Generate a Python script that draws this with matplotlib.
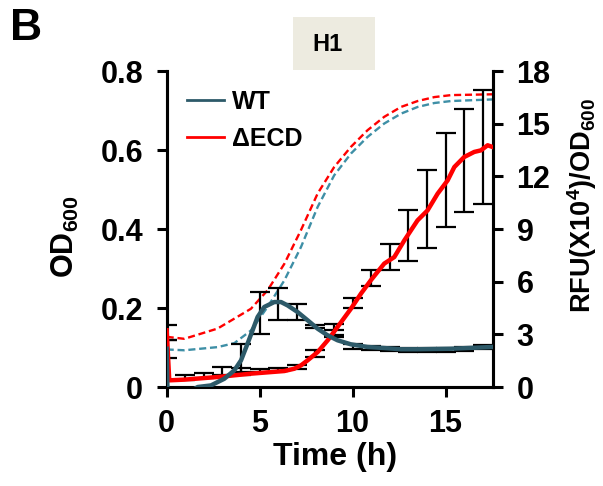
import matplotlib
matplotlib.use('Agg')
import matplotlib.pyplot as plt
from matplotlib.lines import Line2D
from matplotlib.patches import Rectangle

plt.rcParams['font.family'] = ['Liberation Sans', 'DejaVu Sans']
plt.rcParams['font.weight'] = 'bold'
plt.rcParams['mathtext.fontset'] = 'custom'
plt.rcParams['mathtext.rm'] = 'Liberation Sans:bold'
plt.rcParams['mathtext.it'] = 'Liberation Sans:bold'
plt.rcParams['mathtext.bf'] = 'Liberation Sans:bold'

# OD600 growth curves (dashed, left axis)
t_od_ecd = [0, 0.95, 2.74, 4.53, 5.43, 6.33, 7.22, 8.12, 9.01, 9.91, 10.8, 11.7, 12.6, 13.5, 14.4, 15.3, 17.5]
od_ecd = [0.127, 0.122, 0.148, 0.198, 0.245, 0.312, 0.397, 0.490, 0.557, 0.608, 0.650, 0.684, 0.709, 0.724, 0.734, 0.739, 0.741]
t_od_wt = [0, 0.95, 2.74, 3.64, 4.53, 5.43, 6.33, 7.22, 8.12, 9.01, 9.91, 10.8, 11.7, 12.6, 13.5, 14.4, 15.3, 17.5]
od_wt = [0.095, 0.093, 0.101, 0.111, 0.143, 0.203, 0.270, 0.354, 0.456, 0.536, 0.591, 0.633, 0.667, 0.692, 0.709, 0.719, 0.724, 0.728]

# RFU/OD600 curves (solid, right axis)
t_rfu_ecd = [0, 0.14, 0.95, 2.74, 4.53, 6.33, 6.86, 7.22, 7.58, 8.12, 8.66, 9.19, 9.91, 10.45, 10.98,
             11.70, 12.24, 12.78, 13.49, 14.03, 14.57, 15.11, 15.47, 16.0, 16.54, 16.9, 17.26, 17.53]
rfu_ecd = [3.23, 0.38, 0.42, 0.57, 0.76, 0.91, 1.04, 1.23, 1.52, 1.99, 2.66, 3.42, 4.46, 5.32, 6.08,
           7.03, 7.40, 8.35, 9.49, 10.06, 11.01, 11.77, 12.53, 13.10, 13.39, 13.48, 13.77, 13.67]
t_rfu_wt = [0, 0.05, 1.2, 1.67, 2.38, 3.10, 3.64, 4.0, 4.35, 4.62, 4.89, 5.25, 5.79, 6.15, 6.50, 7.04,
            7.58, 8.12, 8.66, 9.19, 9.91, 10.8, 11.7, 12.6, 13.5, 15.3, 17.5]
rfu_wt = [2.18, -0.8, -0.3, 0.0, 0.09, 0.47, 0.95, 1.52, 2.47, 3.23, 3.99, 4.56, 4.84, 4.84, 4.65, 4.27,
          3.80, 3.32, 2.94, 2.66, 2.43, 2.28, 2.22, 2.15, 2.15, 2.18, 2.28]

# error bars (right axis)
t_err_ecd = [0, 1, 2, 3, 4, 5, 6, 7, 8, 9, 10, 11, 12, 13, 14, 15, 16, 17]
m_err_ecd = [3.08, 0.53, 0.63, 0.89, 0.90, 0.95, 1.00, 1.14, 1.90, 3.28, 4.80, 6.23, 7.40, 8.64, 10.16, 11.79, 12.91, 13.69]
e_err_ecd = [0.43, 0.14, 0.14, 0.23, 0.2, 0.1, 0.1, 0.1, 0.2, 0.3, 0.28, 0.46, 0.76, 1.46, 2.22, 2.68, 2.94, 3.25]
t_err_wt = [0, 4, 5, 6, 7, 8, 9, 10, 11, 12, 13, 14, 15, 16, 17]
m_err_wt = [2.15, 1.65, 4.23, 4.75, 4.29, 3.45, 3.04, 2.32, 2.22, 2.15, 2.09, 2.09, 2.13, 2.18, 2.28]
e_err_wt = [0.5, 0.79, 1.19, 0.91, 0.46, 0.1, 0.2, 0.15, 0.12, 0.12, 0.12, 0.12, 0.12, 0.12, 0.12]

teal = '#2D5A69'
teal_dash = '#3E8FA6'
red = '#FF0000'

fig = plt.figure(figsize=(6.03, 4.86), dpi=100)
ax = fig.add_axes([0.2764, 0.2037, 0.5412, 0.6502])
ax2 = ax.twinx()

ax.plot(t_od_ecd, od_ecd, '--', color=red, lw=1.7, dashes=(3, 1.6))
ax.plot(t_od_wt, od_wt, '--', color=teal_dash, lw=1.7, dashes=(3, 1.6))

ax2.errorbar(t_err_ecd, m_err_ecd, yerr=e_err_ecd, fmt='none', ecolor='black', elinewidth=1.6, capsize=7, capthick=1.6, zorder=2)
ax2.errorbar(t_err_wt, m_err_wt, yerr=e_err_wt, fmt='none', ecolor='black', elinewidth=1.6, capsize=7, capthick=1.6, zorder=2)
ax2.plot(t_rfu_ecd, rfu_ecd, color=red, lw=3.2, zorder=3)
ax2.plot(t_rfu_wt, rfu_wt, color=teal, lw=3.2, zorder=4)

ax.set_xlim(0, 17.55)
ax.set_ylim(0, 0.8)
ax2.set_ylim(0, 18)
ax.set_xticks([0, 5, 10, 15])
ax.set_yticks([0, 0.2, 0.4, 0.6, 0.8])
ax.set_yticklabels(['0', '0.2', '0.4', '0.6', '0.8'])
ax2.set_yticks([0, 3, 6, 9, 12, 15, 18])

for a in (ax, ax2):
    a.spines['top'].set_visible(False)
    for s in ('left', 'right', 'bottom'):
        a.spines[s].set_linewidth(2.2)
    a.tick_params(width=2.2, length=7, labelsize=22, pad=10, direction='out')
ax.tick_params(axis='x', pad=9)

ax.set_xlabel('Time (h)', fontsize=23, fontweight='bold')
ax.xaxis.set_label_coords(0.515, -0.175)
ax.set_ylabel('OD$_{600}$', fontsize=22, fontweight='bold')
ax.yaxis.set_label_coords(-0.262, 0.475)
ax2.set_ylabel('RFU(X10$^{4}$)/OD$_{600}$', fontsize=19.5, fontweight='bold')
ax2.yaxis.set_label_coords(1.222, 0.575)

handles = [Line2D([], [], color=teal, lw=2), Line2D([], [], color=red, lw=2)]
ax2.legend(handles, ['WT', '\u0394ECD'], loc='upper left', bbox_to_anchor=(187 / 603, 1 - 90 / 486),
           bbox_transform=fig.transFigure, borderpad=0, borderaxespad=0,
           frameon=False, fontsize=18, handlelength=1.5, handletextpad=0.3, labelspacing=0.5)

fig.text(10 / 603, 1 - 8 / 486, 'B', fontsize=32, fontweight='bold', va='top', ha='left')
fig.patches.append(Rectangle((293 / 603, 1 - 70 / 486), 82 / 603, 53 / 486, transform=fig.transFigure,
                             facecolor='#EDEBE0', edgecolor='none'))
fig.text(328 / 603, 1 - 44.5 / 486, 'H1', fontsize=17, fontweight='bold', ha='center', va='center')

fig.savefig('out.png', dpi=100)
